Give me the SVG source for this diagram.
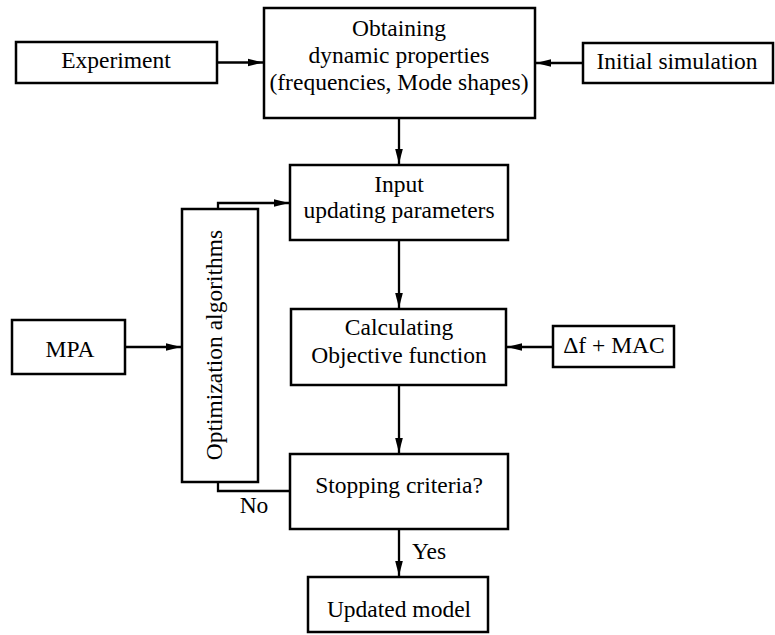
<svg xmlns="http://www.w3.org/2000/svg" width="775" height="635" viewBox="0 0 775 635">
<defs>
<style>
.box{fill:#fff;stroke:#000;stroke-width:2.5}
.c{fill:none;stroke:#000;stroke-width:2.3}
text{font-family:'Liberation Serif',Tinos,'Noto Serif','DejaVu Serif',FreeSerif,'Times New Roman',Times,serif;font-size:23.5px;fill:#000}
.m{text-anchor:middle}
</style>
<marker id="ah" markerUnits="userSpaceOnUse" markerWidth="16" markerHeight="10" refX="15" refY="5" orient="auto">
<path d="M0,1.2 L15,5 L0,8.8 Z" fill="#000"/>
</marker>
</defs>
<rect width="775" height="635" fill="#fff"/>
<g id="connectors">
<path class="c" d="M217,62.5 H263" marker-end="url(#ah)"/>
<path class="c" d="M583,63 H536" marker-end="url(#ah)"/>
<path class="c" d="M399,119 V164" marker-end="url(#ah)"/>
<path class="c" d="M218,209 V203 H289" marker-end="url(#ah)"/>
<path class="c" d="M125,347 H181" marker-end="url(#ah)"/>
<path class="c" d="M399,240 V308" marker-end="url(#ah)"/>
<path class="c" d="M553,347 H507" marker-end="url(#ah)"/>
<path class="c" d="M399,385 V453" marker-end="url(#ah)"/>
<path class="c" d="M290,491 H218 V482"/>
<path class="c" d="M399,529 V576" marker-end="url(#ah)"/>
<text x="254" y="513" class="m">No</text>
<text x="412" y="559">Yes</text>
</g>
<g id="experiment">
<rect class="box" x="16" y="42" width="201" height="41"/>
<text x="116" y="68" class="m">Experiment</text>
</g>
<g id="obtaining">
<rect class="box" x="264" y="8" width="271" height="110"/>
<text x="399" y="36" class="m">Obtaining</text>
<text x="399" y="63" class="m">dynamic properties</text>
<text x="399" y="90" class="m">(frequencies, Mode shapes)</text>
</g>
<g id="initial-simulation">
<rect class="box" x="583" y="43" width="190" height="40"/>
<text x="677" y="69" class="m">Initial simulation</text>
</g>
<g id="input">
<rect class="box" x="290" y="165" width="218" height="75"/>
<text x="399" y="192" class="m">Input</text>
<text x="399" y="218" class="m">updating parameters</text>
</g>
<g id="optimization">
<rect class="box" x="182" y="209" width="76" height="273"/>
<text transform="translate(222,345) rotate(-90)" class="m">Optimization algorithms</text>
</g>
<g id="mpa">
<rect class="box" x="12" y="320" width="113" height="54"/>
<text x="70" y="357" class="m">MPA</text>
</g>
<g id="calculating">
<rect class="box" x="291" y="309" width="215" height="76"/>
<text x="399" y="335" class="m">Calculating</text>
<text x="399" y="363" class="m">Objective function</text>
</g>
<g id="df-mac">
<rect class="box" x="553" y="326" width="121" height="41"/>
<text x="614" y="353" class="m">Δf + MAC</text>
</g>
<g id="stopping">
<rect class="box" x="290" y="454" width="218" height="75"/>
<text x="399" y="493" class="m">Stopping criteria?</text>
</g>
<g id="updated">
<rect class="box" x="308" y="577" width="180" height="55"/>
<text x="399" y="617" class="m">Updated model</text>
</g>
</svg>
